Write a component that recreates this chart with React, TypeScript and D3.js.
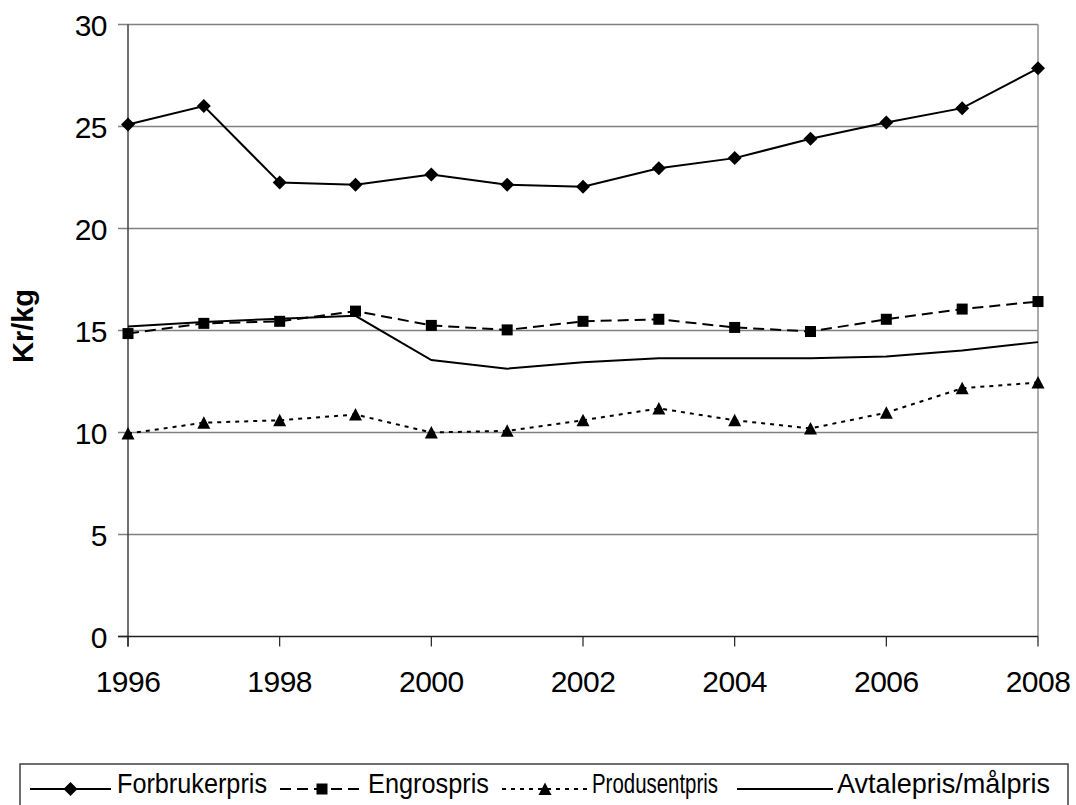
import React from "react";
import * as d3 from "d3";

const years = [1996, 1997, 1998, 1999, 2000, 2001, 2002, 2003, 2004, 2005, 2006, 2007, 2008];
const forbrukerpris = [25.1, 26.0, 22.25, 22.15, 22.65, 22.15, 22.05, 22.95, 23.45, 24.4, 25.2, 25.9, 27.85];
const engrospris = [14.85, 15.35, 15.45, 15.95, 15.25, 15.03, 15.45, 15.55, 15.15, 14.95, 15.55, 16.05, 16.42];
const produsentpris = [9.95, 10.48, 10.6, 10.88, 10.0, 10.08, 10.6, 11.18, 10.6, 10.2, 10.97, 12.17, 12.45];
const avtalepris = [15.2, 15.42, 15.58, 15.72, 13.55, 13.13, 13.44, 13.64, 13.64, 13.64, 13.72, 14.02, 14.43];
const yTicks = [0, 5, 10, 15, 20, 25, 30];
const xTickYears = [1996, 1998, 2000, 2002, 2004, 2006, 2008];
const seriesNames = ["Forbrukerpris", "Engrospris", "Produsentpris", "Avtalepris/målpris"];

const FONT = "'Liberation Sans', Arial, sans-serif";

function Marker({ type, x, y }: { type: string; x: number; y: number }) {
  if (type === "diamond") {
    const s = 7;
    return <path d={`M${x},${y - s}L${x + s},${y}L${x},${y + s}L${x - s},${y}Z`} fill="#000" />;
  }
  if (type === "square") {
    const s = 5.5;
    return <rect x={x - s} y={y - s} width={2 * s} height={2 * s} fill="#000" />;
  }
  if (type === "triangle") {
    const w = 6.5;
    const h = 12;
    return <path d={`M${x},${y - h / 2 - 0.5}L${x + w},${y + h / 2}L${x - w},${y + h / 2}Z`} fill="#000" />;
  }
  return null;
}

export default function App() {
  const x = d3.scaleLinear().domain([1996, 2008]).range([128, 1038]);
  const y = d3.scaleLinear().domain([0, 30]).range([636.5, 24.5]);
  const line = d3
    .line<number>()
    .x((_, i) => x(years[i]))
    .y((d) => y(d));

  const series = [
    { name: seriesNames[0], data: forbrukerpris, dash: undefined, marker: "diamond" },
    { name: seriesNames[1], data: engrospris, dash: "11,6", marker: "square" },
    { name: seriesNames[2], data: produsentpris, dash: "4,5", marker: "triangle" },
    { name: seriesNames[3], data: avtalepris, dash: undefined, marker: "none" },
  ];

  const legendItems = [
    { lineX0: 30, lineX1: 111, textX: 117, textW: 150 },
    { lineX0: 280, lineX1: 364, textX: 368, textW: 121 },
    { lineX0: 502, lineX1: 588, textX: 592, textW: 126 },
    { lineX0: 737, lineX1: 833, textX: 837, textW: 213 },
  ];

  return (
    <svg
      width={1076}
      height={805}
      style={{ position: "absolute", left: 0, top: 0, background: "#fff" }}
      fontFamily={FONT}
    >
      <defs>
        <clipPath id="ylabclip">
          <rect x={0} y={0} width={40} height={805} />
        </clipPath>
      </defs>
      <rect x={0} y={0} width={1076} height={805} fill="#fff" />
      {/* gridlines */}
      {yTicks.map((t) => (
        <line
          key={"g" + t}
          x1={118}
          x2={t === 0 ? 128 : 1038}
          y1={y(t)}
          y2={y(t)}
          stroke="#808080"
          strokeWidth={1.5}
        />
      ))}
      {/* right border */}
      <line x1={1038} x2={1038} y1={y(30)} y2={y(0)} stroke="#909090" strokeWidth={1.5} />
      {/* y axis */}
      <line x1={128} x2={128} y1={y(30)} y2={y(0) + 10} stroke="#404040" strokeWidth={1.5} />
      {/* x axis */}
      <line x1={118} x2={1038} y1={y(0)} y2={y(0)} stroke="#202020" strokeWidth={1.5} />
      {xTickYears.map((yr) => (
        <line key={"xt" + yr} x1={x(yr)} x2={x(yr)} y1={y(0)} y2={y(0) + 10} stroke="#202020" strokeWidth={1.2} />
      ))}
      {/* y tick labels */}
      {yTicks.map((t) => (
        <text key={"yl" + t} x={107} y={y(t) + 11} textAnchor="end" fontSize={30} fill="#000" letterSpacing={-0.5}>
          {t}
        </text>
      ))}
      {/* x tick labels */}
      {xTickYears.map((yr) => (
        <text key={"xl" + yr} x={x(yr)} y={692} textAnchor="middle" fontSize={30} fill="#000" letterSpacing={-0.5}>
          {yr}
        </text>
      ))}
      {/* y axis title */}
      <g clipPath="url(#ylabclip)">
        <text
          transform="translate(33,326) rotate(-90)"
          textAnchor="middle"
          fontSize={29}
          fontWeight="bold"
          fill="#000"
        >
          Kr/kg
        </text>
      </g>
      {/* series */}
      {series.map((s) => (
        <g key={s.name}>
          <path d={line(s.data) || ""} fill="none" stroke="#000" strokeWidth={2} strokeDasharray={s.dash} />
          {s.data.map((v, i) => (
            <Marker key={i} type={s.marker} x={x(years[i])} y={y(v)} />
          ))}
        </g>
      ))}
      {/* legend */}
      <rect x={20} y={764} width={1048} height={60} fill="#fff" stroke="#404040" strokeWidth={1.5} />
      {series.map((s, i) => {
        const it = legendItems[i];
        const ly = 789;
        return (
          <g key={"lg" + s.name}>
            <line x1={it.lineX0} x2={it.lineX1} y1={ly} y2={ly} stroke="#000" strokeWidth={2} strokeDasharray={s.dash} />
            <Marker type={s.marker} x={(it.lineX0 + it.lineX1) / 2} y={ly} />
            <text
              x={it.textX}
              y={793}
              fontSize={28}
              fill="#000"
              textLength={it.textW}
              lengthAdjust="spacingAndGlyphs"
            >
              {s.name}
            </text>
          </g>
        );
      })}
    </svg>
  );
}
